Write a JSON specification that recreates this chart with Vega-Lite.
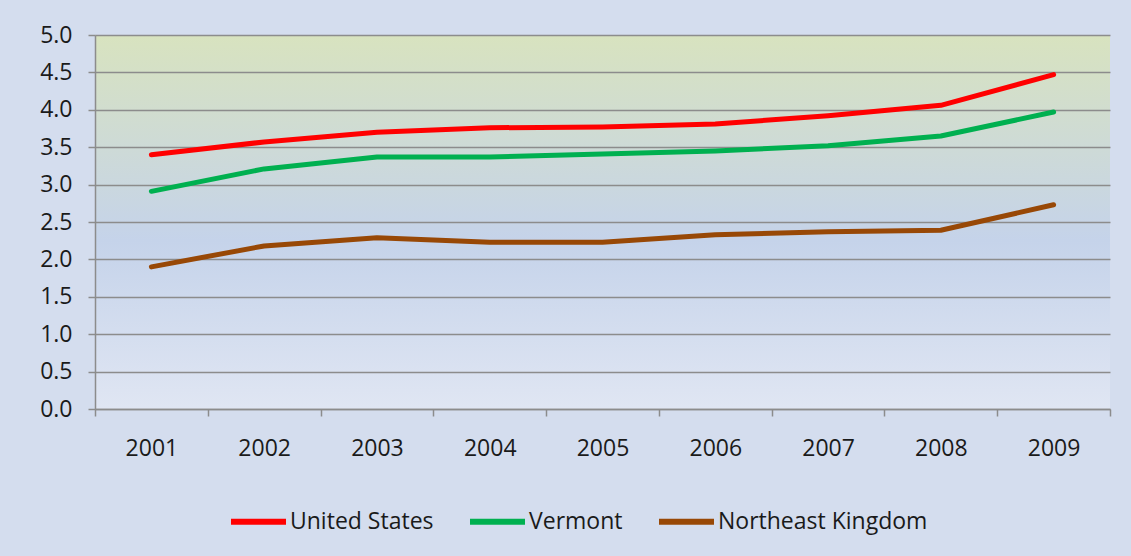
{
  "$schema": "https://vega.github.io/schema/vega-lite/v6.json",
  "width": 1015,
  "height": 374,
  "autosize": {"type": "none"},
  "padding": {"left": 95, "top": 35, "right": 21, "bottom": 147},
  "background": "#d4ddee",
  "config": {
    "font": "Open Sans",
    "view": {
      "stroke": null,
      "fill": {
        "x1": 0, "y1": 0, "x2": 0, "y2": 1,
        "gradient": "linear",
        "stops": [
          {"offset": 0, "color": "#d8e3bf"},
          {"offset": 0.55, "color": "#c5d3ea"},
          {"offset": 1, "color": "#e0e6f3"}
        ]
      }
    }
  },
  "data": {
    "values": [
      {"year": 2001, "region": "United States", "value": 3.40},
      {"year": 2002, "region": "United States", "value": 3.57},
      {"year": 2003, "region": "United States", "value": 3.70},
      {"year": 2004, "region": "United States", "value": 3.76},
      {"year": 2005, "region": "United States", "value": 3.77},
      {"year": 2006, "region": "United States", "value": 3.81},
      {"year": 2007, "region": "United States", "value": 3.92},
      {"year": 2008, "region": "United States", "value": 4.06},
      {"year": 2009, "region": "United States", "value": 4.47},
      {"year": 2001, "region": "Vermont", "value": 2.91},
      {"year": 2002, "region": "Vermont", "value": 3.21},
      {"year": 2003, "region": "Vermont", "value": 3.37},
      {"year": 2004, "region": "Vermont", "value": 3.37},
      {"year": 2005, "region": "Vermont", "value": 3.41},
      {"year": 2006, "region": "Vermont", "value": 3.45},
      {"year": 2007, "region": "Vermont", "value": 3.52},
      {"year": 2008, "region": "Vermont", "value": 3.65},
      {"year": 2009, "region": "Vermont", "value": 3.97},
      {"year": 2001, "region": "Northeast Kingdom", "value": 1.90},
      {"year": 2002, "region": "Northeast Kingdom", "value": 2.18},
      {"year": 2003, "region": "Northeast Kingdom", "value": 2.29},
      {"year": 2004, "region": "Northeast Kingdom", "value": 2.23},
      {"year": 2005, "region": "Northeast Kingdom", "value": 2.23},
      {"year": 2006, "region": "Northeast Kingdom", "value": 2.33},
      {"year": 2007, "region": "Northeast Kingdom", "value": 2.37},
      {"year": 2008, "region": "Northeast Kingdom", "value": 2.39},
      {"year": 2009, "region": "Northeast Kingdom", "value": 2.73}
    ]
  },
  "mark": {"type": "line", "strokeWidth": 5, "strokeCap": "round", "strokeJoin": "round", "interpolate": "linear"},
  "encoding": {
    "x": {
      "field": "year",
      "type": "quantitative",
      "scale": {"domain": [2000.5, 2009.5], "nice": false, "zero": false},
      "axis": {
        "title": null,
        "grid": false,
        "values": [2000.5, 2001, 2001.5, 2002, 2002.5, 2003, 2003.5, 2004, 2004.5, 2005, 2005.5, 2006, 2006.5, 2007, 2007.5, 2008, 2008.5, 2009, 2009.5],
        "labelExpr": "datum.value % 1 == 0 ? format(datum.value, 'd') : ''",
        "tickOpacity": {"condition": {"test": "datum.value % 1 == 0", "value": 0}, "value": 1},
        "tickSize": 7,
        "tickColor": "#8c8c8c",
        "tickWidth": 1.5,
        "domainColor": "#8c8c8c",
        "domainWidth": 1.5,
        "labelFontSize": 23,
        "labelColor": "#1a1a1a",
        "labelPadding": 21,
        "labelFlush": false,
        "labelOverlap": false
      }
    },
    "y": {
      "field": "value",
      "type": "quantitative",
      "scale": {"domain": [0, 5], "nice": false},
      "axis": {
        "title": null,
        "values": [0, 0.5, 1, 1.5, 2, 2.5, 3, 3.5, 4, 4.5, 5],
        "format": ".1f",
        "gridColor": "#8c8c8c",
        "gridWidth": 1.5,
        "tickSize": 7,
        "tickColor": "#8c8c8c",
        "tickWidth": 1.5,
        "domainColor": "#8c8c8c",
        "domainWidth": 1.5,
        "labelFontSize": 23,
        "labelColor": "#1a1a1a",
        "labelPadding": 16
      }
    },
    "color": {
      "field": "region",
      "type": "nominal",
      "sort": ["United States", "Vermont", "Northeast Kingdom"],
      "scale": {
        "domain": ["United States", "Vermont", "Northeast Kingdom"],
        "range": ["#ff0000", "#00b050", "#984806"]
      },
      "legend": {
        "title": null,
        "orient": "none",
        "legendX": 133,
        "legendY": 456,
        "direction": "horizontal",
        "symbolType": "stroke",
        "symbolSize": 3025,
        "symbolStrokeWidth": 6,
        "labelFontSize": 23,
        "labelColor": "#1a1a1a",
        "labelOffset": 1,
        "columnPadding": 24,
        "labelLimit": 300
      }
    }
  }
}
